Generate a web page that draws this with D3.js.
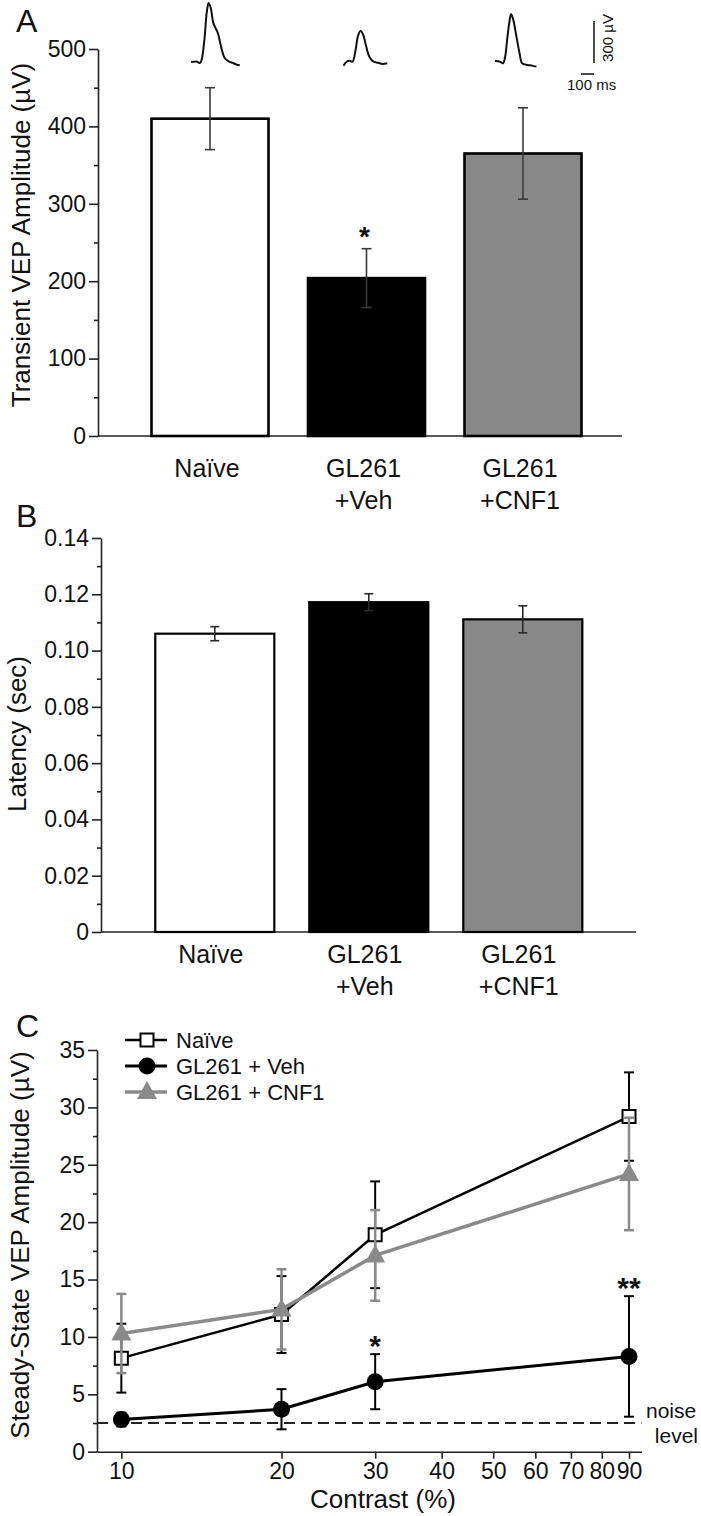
<!DOCTYPE html>
<html><head><meta charset="utf-8">
<script src="https://cdn.jsdelivr.net/npm/d3@7"></script>
<style>body{margin:0;background:#fff} svg{display:block}</style>
</head><body><svg id="c" width="701" height="1516"></svg>
<script>
// ---------- data ----------
const groupLines = [["Naïve"], ["GL261", "+Veh"], ["GL261", "+CNF1"]];
const ampMean = [410, 204, 365];
const ampErr = [40, 38, 59];
const latMean = [0.106, 0.1172, 0.1111];
const latErr = [0.0025, 0.003, 0.0048];
const ampTicks = [0, 100, 200, 300, 400, 500];
const ampMinor = [50, 150, 250, 350, 450];
const latTicks = [0, 0.02, 0.04, 0.06, 0.08, 0.10, 0.12, 0.14];
const latMinor = [0.01, 0.03, 0.05, 0.07, 0.09, 0.11, 0.13];
// example VEP waveforms (ms, µV)
const naiveTraceT = [0, 42, 69, 82, 103, 121, 135, 152, 172, 206, 231, 259, 290, 323, 351, 375];
const naiveTraceV = [0, 4, -7, 16, 159, 352, 421, 386, 278, 209, 111, 29, 4, -7, -19, -24];
const vehTraceT = [0, 24, 49, 69, 93, 110, 131, 152, 172, 199, 231, 265, 300, 337];
const vehTraceV = [-26, 2, 9, 2, 86, 181, 224, 193, 121, 38, 2, -5, -14, -9];
const cnfTraceT = [0, 38, 62, 78, 96, 113, 124, 141, 165, 189, 209, 250, 285, 319];
const cnfTraceV = [9, 2, -9, 38, 181, 300, 343, 300, 181, 62, -9, -21, -26, -33];
// panel C
const contrast = [10, 20, 30, 90];
const naiveSS = [8.15, 11.95, 18.9, 29.2];
const naiveSSErr = [3.0, 3.35, 4.65, 3.85];
const vehSS = [2.8, 3.7, 6.1, 8.3];
const vehSSErr = [0.6, 1.75, 2.4, 5.25];
const cnfSS = [10.3, 12.4, 17.1, 24.2];
const cnfSSErr = [3.45, 3.5, 3.95, 4.9];
const noiseLevel = 2.5;
const contrastTicks = [10, 20, 30, 40, 50, 60, 70, 80, 90];
const ssTicks = [0, 5, 10, 15, 20, 25, 30, 35];
const ssMinor = [2.5, 7.5, 12.5, 17.5, 22.5, 27.5, 32.5];
const legendLabels = ["Naïve", "GL261 + Veh", "GL261 + CNF1"];

// ---------- style ----------
const FONT = "'Liberation Sans', Arial, Helvetica, sans-serif";
const INK = "#111";
const GRAY = "#888888";
const barFills = ["#ffffff", "#000000", GRAY];
const svg = d3.select("#c");
svg.append("rect").attr("width", 701).attr("height", 1516).attr("fill", "#fff");

function styleAxis(g, fs) {
  g.select(".domain").attr("stroke", "#222").attr("stroke-width", 1.6);
  g.selectAll(".tick line").attr("stroke", "#222").attr("stroke-width", 1.6);
  g.selectAll(".tick text").attr("font-size", fs).attr("fill", INK).attr("font-family", FONT);
}
function minorAxis(g) {
  g.select(".domain").remove();
  g.selectAll(".tick line").attr("stroke", "#222").attr("stroke-width", 1.6);
}
function txt(x, y, s, fs, anchor, extra) {
  const t = svg.append("text").attr("x", x).attr("y", y).text(s)
    .attr("font-family", FONT).attr("font-size", fs).attr("fill", INK)
    .attr("text-anchor", anchor || "start");
  if (extra) extra(t);
  return t;
}
function rotTitle(x, y, s, fs) {
  svg.append("text").attr("transform", `translate(${x},${y}) rotate(-90)`)
    .attr("text-anchor", "middle").attr("font-family", FONT).attr("font-size", fs)
    .attr("fill", INK).text(s);
}
function errBar(g, cx, y1, y2, color, w, cap) {
  g.append("line").attr("x1", cx).attr("x2", cx).attr("y1", y1).attr("y2", y2)
    .attr("stroke", color).attr("stroke-width", w);
  [y1, y2].forEach(y => g.append("line").attr("x1", cx - cap / 2).attr("x2", cx + cap / 2)
    .attr("y1", y).attr("y2", y).attr("stroke", color).attr("stroke-width", w));
}

// ---------- Panel A ----------
const yA = d3.scaleLinear().domain([0, 500]).range([436, 49]);
const xA = d3.scaleBand().domain(d3.range(3)).range([131.75, 601.25]).paddingInner(0.2524).paddingOuter(0.1262);
const cA = i => xA(i) + xA.bandwidth() / 2;

svg.append("line").attr("x1", 98).attr("x2", 622).attr("y1", yA(0)).attr("y2", yA(0))
  .attr("stroke", "#222").attr("stroke-width", 1.6);
const gA = svg.append("g");
gA.selectAll("rect").data(ampMean).join("rect")
  .attr("x", (d, i) => xA(i)).attr("y", d => yA(d))
  .attr("width", xA.bandwidth()).attr("height", d => yA(0) - yA(d))
  .attr("fill", (d, i) => barFills[i]).attr("stroke", "#000").attr("stroke-width", 2.6);
ampMean.forEach((m, i) => errBar(gA, cA(i), yA(m + ampErr[i]), yA(m - ampErr[i]), "#3a3a3a", 1.6, 10));

const axA = svg.append("g").attr("transform", "translate(98,0)")
  .call(d3.axisLeft(yA).tickValues(ampTicks).tickSize(9).tickPadding(3).tickSizeOuter(0));
styleAxis(axA, 23);
minorAxis(svg.append("g").attr("transform", "translate(98,0)")
  .call(d3.axisLeft(yA).tickValues(ampMinor).tickSize(4).tickFormat("")));

groupLines.forEach((lines, i) => lines.forEach((s, k) =>
  txt(cA(i) - 3, yA(0) + 41 + k * 32, s, 25, "middle")));
rotTitle(30, 235, "Transient VEP Amplitude (\u00b5V)", 26);
txt(16, 32, "A", 32);
txt(cA(1) - 2, 246, "*", 28, "middle", t => t.attr("font-weight", "bold"));

// waveforms
const tS = d3.scaleLinear().domain([0, 100]).range([0, 13]);
const vS = d3.scaleLinear().domain([0, 300]).range([0, -42]);
const traces = [[naiveTraceT, naiveTraceV], [vehTraceT, vehTraceV], [cnfTraceT, cnfTraceV]];
const traceShift = [-19, -23, -28];
const traceLine = d3.line().x(d => tS(d[0])).y(d => vS(d[1])).curve(d3.curveCatmullRom.alpha(0.5));
traces.forEach(([T, V], i) => {
  svg.append("path").attr("transform", `translate(${cA(i) + traceShift[i]},62)`)
    .attr("d", traceLine(T.map((t, k) => [t, V[k]])))
    .attr("fill", "none").attr("stroke", "#111").attr("stroke-width", 2);
});
// scale bars
const sb = svg.append("g").attr("transform", "translate(594,63)");
sb.append("line").attr("x1", 0).attr("x2", 0).attr("y1", vS(0)).attr("y2", vS(300))
  .attr("stroke", "#111").attr("stroke-width", 1.5);
sb.append("line").attr("x1", -tS(100)).attr("x2", 0).attr("y1", 11).attr("y2", 11)
  .attr("stroke", "#111").attr("stroke-width", 1.5);
svg.append("text").attr("transform", "translate(613,38) rotate(-90)").attr("text-anchor", "middle")
  .attr("font-family", FONT).attr("font-size", 15).attr("fill", INK).text("300 \u00b5V");
txt(567, 90, "100 ms", 15);

// ---------- Panel B ----------
const yB = d3.scaleLinear().domain([0, 0.14]).range([932, 538]);
const xB = d3.scaleBand().domain(d3.range(3)).range([137.8, 599.8]).paddingInner(0.227).paddingOuter(0.1135);
const cB = i => xB(i) + xB.bandwidth() / 2;
svg.append("line").attr("x1", 101).attr("x2", 636).attr("y1", yB(0)).attr("y2", yB(0))
  .attr("stroke", "#222").attr("stroke-width", 1.6);
const gB = svg.append("g");
gB.selectAll("rect").data(latMean).join("rect")
  .attr("x", (d, i) => xB(i)).attr("y", d => yB(d))
  .attr("width", xB.bandwidth()).attr("height", d => yB(0) - yB(d))
  .attr("fill", (d, i) => barFills[i]).attr("stroke", "#000").attr("stroke-width", 2.2);
latMean.forEach((m, i) => errBar(gB, cB(i), yB(m + latErr[i]), yB(m - latErr[i]), "#2a2a2a", 1.6, 9));
const axB = svg.append("g").attr("transform", "translate(101,0)")
  .call(d3.axisLeft(yB).tickValues(latTicks).tickSize(9).tickPadding(3).tickSizeOuter(0)
    .tickFormat(d => d === 0 ? "0" : d3.format(".2f")(d)));
styleAxis(axB, 23);
minorAxis(svg.append("g").attr("transform", "translate(101,0)")
  .call(d3.axisLeft(yB).tickValues(latMinor).tickSize(4).tickFormat("")));
groupLines.forEach((lines, i) => lines.forEach((s, k) =>
  txt(cB(i) - 4, yB(0) + 31 + k * 32, s, 25, "middle")));
rotTitle(26, 734, "Latency (sec)", 26);
txt(16, 527, "B", 32);

// ---------- Panel C ----------
const yC = d3.scaleLinear().domain([0, 35]).range([1451.7, 1050]);
const xC = d3.scaleLog().domain([9, 95]).range([97, 641.5]);
const axCx = svg.append("g").attr("transform", `translate(0,${yC(0)})`)
  .call(d3.axisBottom(xC).tickValues(contrastTicks).tickSize(7).tickPadding(4).tickSizeOuter(0)
    .tickFormat(d3.format("d")));
styleAxis(axCx, 23);
const axCy = svg.append("g").attr("transform", "translate(97,0)")
  .call(d3.axisLeft(yC).tickValues(ssTicks).tickSize(9).tickPadding(3).tickSizeOuter(0));
styleAxis(axCy, 23);
minorAxis(svg.append("g").attr("transform", "translate(97,0)")
  .call(d3.axisLeft(yC).tickValues(ssMinor).tickSize(4).tickFormat("")));

svg.append("line").attr("x1", 97).attr("x2", 641.5).attr("y1", yC(noiseLevel)).attr("y2", yC(noiseLevel))
  .attr("stroke", "#222").attr("stroke-width", 2).attr("stroke-dasharray", "11,6");
txt(646, 1418, "noise", 21);
txt(698, 1443, "level", 21, "end");

const squarePath = "M-6.5,-6.5H6.5V6.5H-6.5Z";
const triPath = "M0,-11L10,7L-10,7Z";
const series = [
  { m: naiveSS, e: naiveSSErr, color: "#000", lw: 2.5, ew: 2, marker: g => g.append("path").attr("d", squarePath).attr("fill", "#fff").attr("stroke", "#000").attr("stroke-width", 2) },
  { m: cnfSS, e: cnfSSErr, color: "#8a8a8a", lw: 3.5, ew: 2.5, marker: g => g.append("path").attr("d", triPath).attr("fill", "#8a8a8a") },
  { m: vehSS, e: vehSSErr, color: "#000", lw: 3, ew: 2, marker: g => g.append("circle").attr("r", 8.5).attr("fill", "#000") }
];
const lineC = d3.line().x(d => xC(d[0])).y(d => yC(d[1]));
series.forEach(s => {
  const g = svg.append("g");
  s.m.forEach((v, k) => errBar(g, xC(contrast[k]), yC(v + s.e[k]), yC(v - s.e[k]), s.color, s.ew, 10));
  g.append("path").attr("d", lineC(contrast.map((c, k) => [c, s.m[k]])))
    .attr("fill", "none").attr("stroke", s.color).attr("stroke-width", s.lw);
  s.m.forEach((v, k) => s.marker(g.append("g").attr("transform", `translate(${xC(contrast[k])},${yC(v)})`)));
});
// significance
txt(xC(30), yC(vehSS[2] + vehSSErr[2]) + 2, "*", 30, "middle", t => t.attr("font-weight", "bold"));
txt(xC(90), yC(vehSS[3] + vehSSErr[3]) + 2, "**", 30, "middle", t => t.attr("font-weight", "bold"));

// legend
series.forEach((s, i) => {
  const idx = [0, 2, 1][i];
  const y = 1040 + idx * 26;
  const g = svg.append("g");
  g.append("line").attr("x1", 125).attr("x2", 167).attr("y1", y).attr("y2", y)
    .attr("stroke", s.color).attr("stroke-width", s.lw);
  s.marker(g.append("g").attr("transform", `translate(147,${y})`));
});
legendLabels.forEach((l, i) => txt(176, 1040 + i * 26 + 8, l, 22));

rotTitle(29, 1245, "Steady-State VEP Amplitude (\u00b5V)", 26);
txt(383, 1508, "Contrast (%)", 26, "middle");
txt(16, 1037, "C", 32);
</script></body></html>
